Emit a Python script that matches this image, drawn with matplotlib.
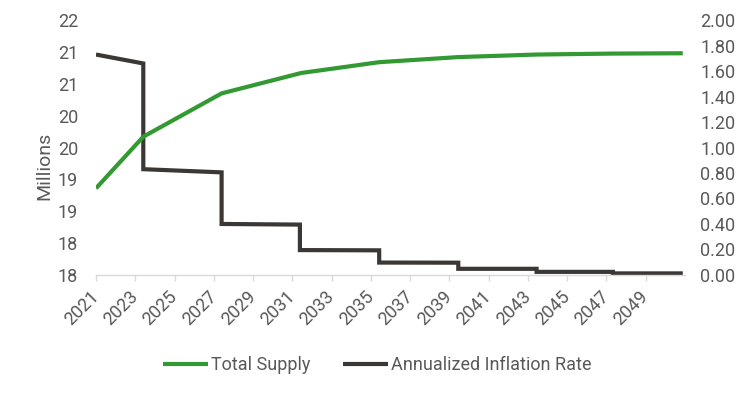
import matplotlib.pyplot as plt

# total supply (millions), left axis
supply_years = [2021.0, 2023.41, 2027.40, 2031.45, 2035.43, 2039.46, 2043.45, 2047.34, 2050.9]
supply = [18.86, 19.67, 20.35, 20.67, 20.84, 20.92, 20.96, 20.975, 20.98]

# annualized inflation rate (%), right axis - step at each halving
infl_years = [2021.0, 2023.41, 2023.41, 2027.40, 2027.40, 2031.39, 2031.39,
              2035.43, 2035.43, 2039.46, 2039.46, 2043.45, 2043.45, 2047.34, 2047.34, 2050.9]
infl = [1.73, 1.66, 0.83, 0.805, 0.40, 0.395, 0.195, 0.193, 0.097, 0.096,
        0.048, 0.048, 0.024, 0.024, 0.012, 0.012]

left_ticks = [17.5, 18.0, 18.5, 19.0, 19.5, 20.0, 20.5, 21.0, 21.5]
left_labels = ['18', '18', '19', '19', '20', '20', '21', '21', '22']
right_ticks = [0.0, 0.2, 0.4, 0.6, 0.8, 1.0, 1.2, 1.4, 1.6, 1.8, 2.0]
x_ticks = list(range(2021, 2050, 2))

green = '#339933'
dark = '#3b3735'
gray = '#595959'
axis_gray = '#d9d9d9'

plt.rcParams['font.family'] = ['Roboto', 'DejaVu Sans']

fig = plt.figure(figsize=(7.5, 3.95), dpi=100)
ax = fig.add_axes([0.128, 0.304, 0.785, 0.645])
ax2 = ax.twinx()

ax.plot(supply_years, supply, color=green, lw=3, solid_capstyle='butt', label='Total Supply', zorder=3)
ax2.plot(infl_years, infl, color=dark, lw=3, solid_capstyle='butt', solid_joinstyle='miter',
         label='Annualized Inflation Rate')

ax.set_xlim(2021, 2051)
ax.set_ylim(17.5, 21.5)
ax2.set_ylim(0, 2.0)

ax.set_yticks(left_ticks)
ax.set_yticklabels(left_labels)
ax2.set_yticks(right_ticks)
ax2.set_yticklabels([f'{v:.2f}' for v in right_ticks])
ax.set_xticks(x_ticks)
ax.set_xticklabels([str(y) for y in x_ticks], rotation=45, ha='right', va='center',
                   rotation_mode='anchor')

for a in (ax, ax2):
    for s in ('top', 'left', 'right', 'bottom'):
        a.spines[s].set_visible(False)
ax.spines['bottom'].set_visible(True)
ax.spines['bottom'].set_color(axis_gray)
ax.spines['bottom'].set_linewidth(1)

ax.tick_params(axis='x', colors=axis_gray, length=4.5, width=1, pad=9, labelcolor=gray, labelsize=13)
ax.tick_params(axis='y', length=0, pad=13, labelcolor=gray, labelsize=13)
ax2.tick_params(axis='y', length=0, pad=11, labelcolor=gray, labelsize=13)

ax.set_ylabel('Millions', color=gray, fontsize=14)
ax.yaxis.set_label_coords(-0.073, 0.427)

ax.set_zorder(ax2.get_zorder() + 1)
ax.patch.set_visible(False)

h1, l1 = ax.get_legend_handles_labels()
h2, l2 = ax2.get_legend_handles_labels()
fig.legend(h1 + h2, l1 + l2, loc='center', bbox_to_anchor=(0.503, 0.076), ncol=2,
           frameon=False, fontsize=13, labelcolor=gray, handlelength=2.5,
           handletextpad=0.15, columnspacing=1.8)

fig.savefig('out.png', dpi=100)
